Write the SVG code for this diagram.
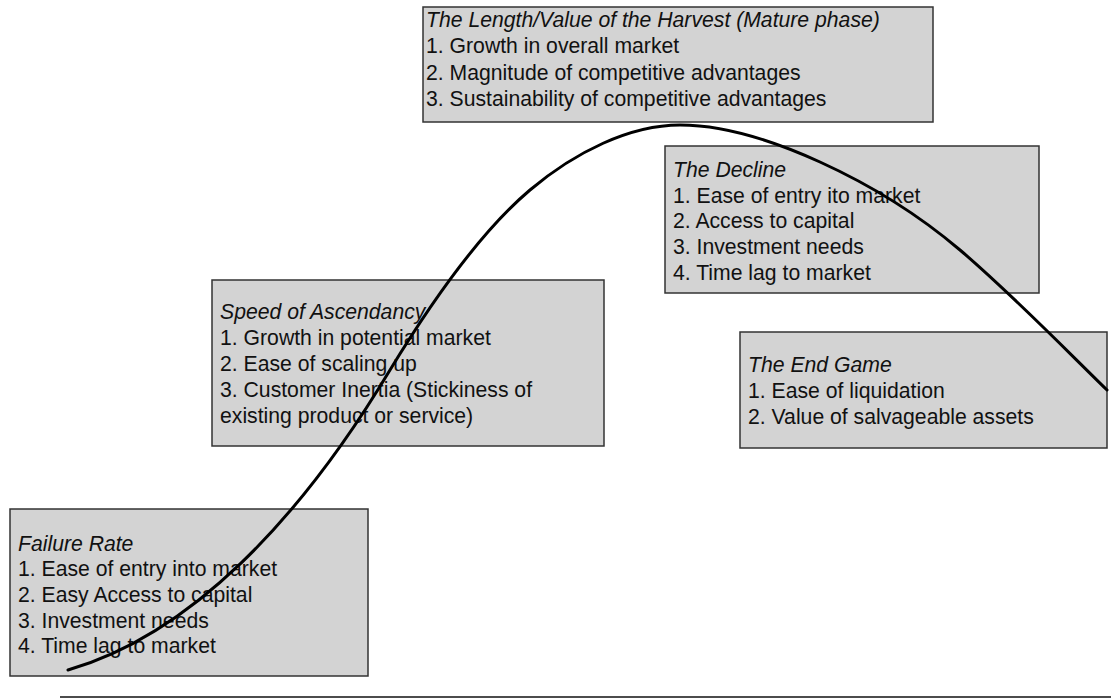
<svg xmlns="http://www.w3.org/2000/svg" width="1111" height="700" viewBox="0 0 1111 700">
<style>
.box{fill:#d3d3d3;stroke:#333;stroke-width:1.5}
.t{font-family:"Liberation Sans",Arial,sans-serif;font-size:21.2px;fill:#111}
.h{font-style:italic}
.curve{fill:none;stroke:#000;stroke-width:3;stroke-linecap:round}
.axis{stroke:#111;stroke-width:1.5}
</style>
<rect width="1111" height="700" fill="#fff"/>
<g id="failure-rate">
<rect class="box" x="10" y="509" width="358" height="167"/>
<text class="t h" x="18" y="550.5">Failure Rate</text>
<text class="t" x="18" y="576">1. Ease of entry into market</text>
<text class="t" x="18" y="602">2. Easy Access to capital</text>
<text class="t" x="18" y="627.5">3. Investment needs</text>
<text class="t" x="18" y="653">4. Time lag to market</text>
</g>
<g id="speed-of-ascendancy">
<rect class="box" x="212" y="280" width="392" height="166"/>
<text class="t h" x="220" y="319">Speed of Ascendancy</text>
<text class="t" x="220" y="345">1. Growth in potential market</text>
<text class="t" x="220" y="371">2. Ease of scaling up</text>
<text class="t" x="220" y="397">3. Customer Inertia (Stickiness of</text>
<text class="t" x="220" y="423">existing product or service)</text>
</g>
<g id="harvest">
<rect class="box" x="423" y="7" width="510" height="115"/>
<text class="t h" x="426" y="26.5">The Length/Value of the Harvest (Mature phase)</text>
<text class="t" x="426" y="53">1. Growth in overall market</text>
<text class="t" x="426" y="79.5">2. Magnitude of competitive advantages</text>
<text class="t" x="426" y="106">3. Sustainability of competitive advantages</text>
</g>
<g id="decline">
<rect class="box" x="665" y="146" width="374" height="147"/>
<text class="t h" x="673" y="176.5">The Decline</text>
<text class="t" x="673" y="202.5">1. Ease of entry ito market</text>
<text class="t" x="673" y="228">2. Access to capital</text>
<text class="t" x="673" y="254">3. Investment needs</text>
<text class="t" x="673" y="279.5">4. Time lag to market</text>
</g>
<g id="end-game">
<rect class="box" x="740" y="332" width="367" height="116"/>
<text class="t h" x="748" y="372">The End Game</text>
<text class="t" x="748" y="398">1. Ease of liquidation</text>
<text class="t" x="748" y="424">2. Value of salvageable assets</text>
</g>
<g id="connectors">
<path class="curve" d="M68,670 C190,635 300,520 390,370 C435,296 485,228 530,190 C575,152 630,125 680,125 C760,125 880,182 960,250 C1010,292.5 1060,344 1107,390"/>
<line class="axis" x1="60" y1="697" x2="1111" y2="697"/>
</g>
</svg>
